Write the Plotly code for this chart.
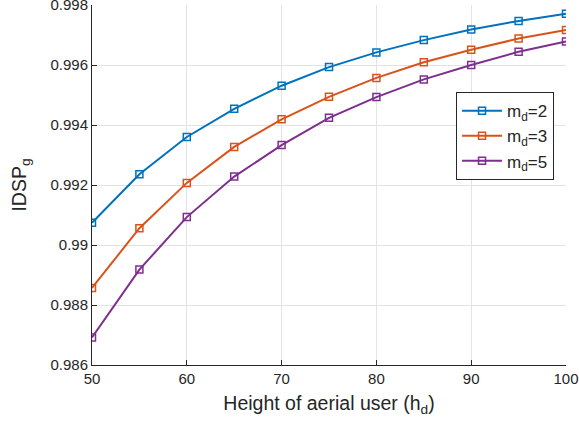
import plotly.graph_objects as go

heights = [50, 55, 60, 65, 70, 75, 80, 85, 90, 95, 100]
md2 = [0.99074, 0.99236, 0.99360, 0.99454, 0.99531, 0.99593, 0.99642, 0.99683, 0.99718, 0.99747, 0.99771]
md3 = [0.98857, 0.99056, 0.99207, 0.99327, 0.99419, 0.99494, 0.99557, 0.99609, 0.99651, 0.99688, 0.99717]
md5 = [0.98692, 0.98918, 0.99093, 0.99228, 0.99333, 0.99424, 0.99493, 0.99552, 0.99600, 0.99644, 0.99678]
series_names = ["m<sub>d</sub>=2", "m<sub>d</sub>=3", "m<sub>d</sub>=5"]
colors = ["#0072BD", "#D95319", "#7E2F8E"]
ytick_vals = [0.986, 0.988, 0.990, 0.992, 0.994, 0.996, 0.998]
ytick_text = ["0.986", "0.988", "0.99", "0.992", "0.994", "0.996", "0.998"]
xtick_vals = [50, 60, 70, 80, 90, 100]

fig = go.Figure()
for name, ys, c in zip(series_names, [md2, md3, md5], colors):
    fig.add_trace(go.Scatter(
        x=heights, y=ys, name=name, mode="lines+markers",
        line=dict(color=c, width=2),
        marker=dict(symbol="square-open", size=7, color=c, line=dict(width=1.5, color=c)),
    ))

font_family = "Liberation Sans, Arial, sans-serif"
fig.update_layout(
    width=579, height=432,
    margin=dict(l=92, r=13, t=5, b=67),
    paper_bgcolor="white", plot_bgcolor="white",
    font=dict(family=font_family, color="#262626", size=14),
    xaxis=dict(
        range=[50, 100], tickvals=xtick_vals, ticks="inside", ticklen=5,
        tickcolor="#262626", showline=True, linecolor="#262626", linewidth=1,
        showgrid=True, gridcolor="#e3e3e3", gridwidth=1, zeroline=False,
        tickfont=dict(size=15, color="#262626"), ticklabeloverflow="allow",
        automargin=False,
        title=dict(text="Height of aerial user (h<sub>d</sub>)", font=dict(size=19.5, color="#262626"), standoff=10),
    ),
    yaxis=dict(
        range=[0.986, 0.998], tickvals=ytick_vals, ticktext=ytick_text, ticks="inside", ticklen=5,
        tickcolor="#262626", showline=True, linecolor="#262626", linewidth=1,
        showgrid=True, gridcolor="#e3e3e3", gridwidth=1, zeroline=False,
        tickfont=dict(size=15, color="#262626"), ticklabeloverflow="allow",
        automargin=False,
        title=dict(text="IDSP<sub>g</sub>", font=dict(size=19.5, color="#262626"), standoff=18),
    ),
    legend=dict(
        x=0.768, y=0.758, xanchor="left", yanchor="top",
        bgcolor="white", bordercolor="#262626", borderwidth=1,
        font=dict(size=17, color="#262626"), itemwidth=40,
        tracegroupgap=0,
    ),
    showlegend=True,
)

fig.write_html("out.html")
